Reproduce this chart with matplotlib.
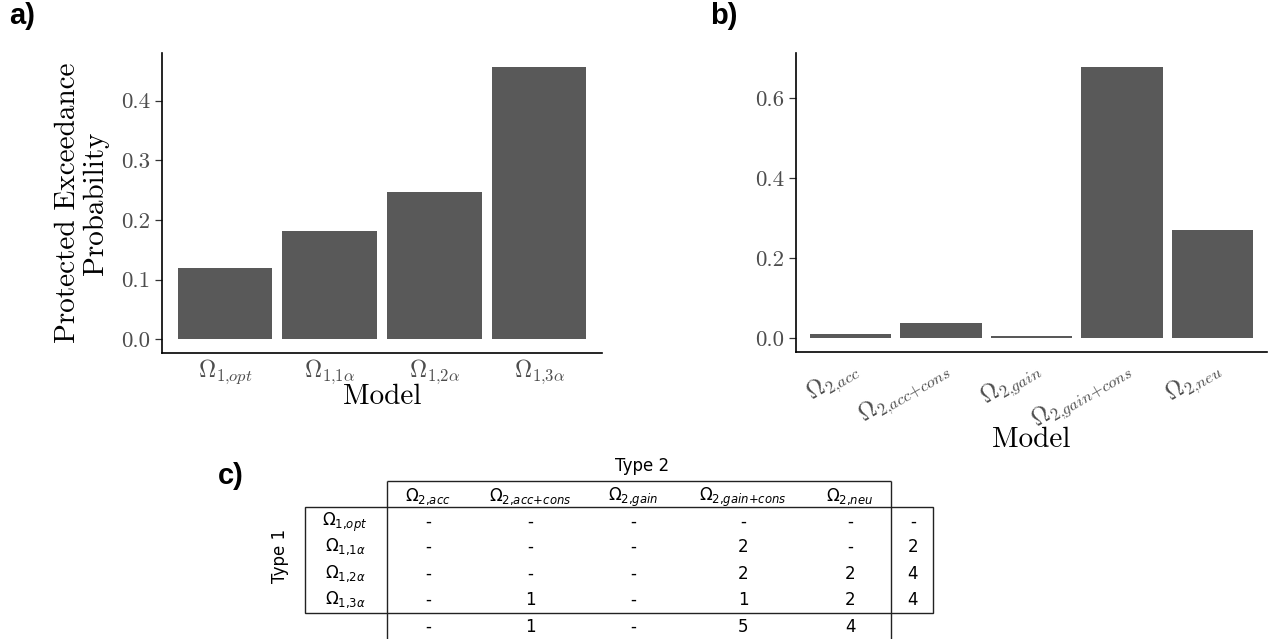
import numpy as np
import matplotlib
matplotlib.use("Agg")
import matplotlib.pyplot as plt
from matplotlib.patches import Rectangle

# --- data ---
type1_models = [r"$\Omega_{1{,}opt}$", r"$\Omega_{1{,}1\alpha}$",
                r"$\Omega_{1{,}2\alpha}$", r"$\Omega_{1{,}3\alpha}$"]
type1_pxp = [0.119, 0.182, 0.247, 0.457]

type2_models = [r"$\Omega_{2{,}acc}$", r"$\Omega_{2{,}acc{+}cons}$", r"$\Omega_{2{,}gain}$",
                r"$\Omega_{2{,}gain{+}cons}$", r"$\Omega_{2{,}neu}$"]
type2_pxp = [0.010, 0.039, 0.007, 0.678, 0.270]

# participant counts, rows = type 1 model, columns = type 2 model
counts = [
    [0, 0, 0, 0, 0],
    [0, 0, 0, 2, 0],
    [0, 0, 0, 2, 2],
    [0, 1, 0, 1, 2],
]

W, H = 1268, 639
BAR = "#595959"
TICK_TXT = "#4D4D4D"
SERIF = "cmr10"

plt.rcParams["mathtext.fontset"] = "cm"
plt.rcParams["axes.unicode_minus"] = False

fig = plt.figure(figsize=(W / 100, H / 100), dpi=100)


def px_axes(x0, y0, x1, y1):
    return fig.add_axes([x0 / W, 1 - y1 / H, (x1 - x0) / W, (y1 - y0) / H])


# --- table panel (drawn in pixel coordinates) ---
ax_t = px_axes(0, 0, W, H)
ax_t.set_xlim(0, W)
ax_t.set_ylim(H, 0)
ax_t.axis("off")
ax_t.patch.set_visible(False)

col_x = [428, 530, 633, 743, 850]
tot_x = 913
row_y = [522, 547, 574, 600]
head_y = 497
tot_y = 627
lab_x = 345
line_kw = dict(color="#222222", lw=1.0, solid_capstyle="butt")
txt_kw = dict(ha="center", va="center", fontsize=12, family="DejaVu Sans",
              math_fontfamily="dejavusans", color="black")

ax_t.plot([387, 891], [481, 481], **line_kw)
ax_t.plot([387, 387], [481, H], **line_kw)
ax_t.plot([891, 891], [481, H], **line_kw)
ax_t.add_patch(Rectangle((305, 507), 933 - 305, 613 - 507, fill=False,
                         edgecolor="#222222", lw=1.0))

ax_t.text(642, 466, "Type 2", **txt_kw)
ax_t.text(280, 556, "Type 1", rotation=90, **txt_kw)
for x, lab in zip(col_x, type2_models):
    ax_t.text(x, head_y, lab, **txt_kw)
for y, lab, row in zip(row_y, type1_models, counts):
    ax_t.text(lab_x, y, lab, **txt_kw)
    for x, v in zip(col_x, row):
        ax_t.text(x, y, str(v) if v else "-", **txt_kw)
    s = sum(row)
    ax_t.text(tot_x, y, str(s) if s else "-", **txt_kw)
for j, x in enumerate(col_x):
    s = sum(r[j] for r in counts)
    ax_t.text(x, tot_y, str(s) if s else "-", **txt_kw)


def style_axes(ax):
    for side in ("top", "right"):
        ax.spines[side].set_visible(False)
    for side in ("left", "bottom"):
        ax.spines[side].set_linewidth(1.2)
        ax.spines[side].set_color("black")
    ax.tick_params(axis="y", length=5, width=0.9, color="#333333", pad=3.5)
    ax.tick_params(axis="x", length=0)


# --- panel a ---
ax_a = px_axes(162, 53, 602, 353)
xa = np.arange(len(type1_pxp))
ax_a.bar(xa, type1_pxp, width=0.9, color=BAR)
ax_a.set_xlim(-0.6, len(xa) - 0.4)
ax_a.set_ylim(-0.05 * max(type1_pxp), 1.05 * max(type1_pxp))
style_axes(ax_a)
yt = [0.0, 0.1, 0.2, 0.3, 0.4]
ax_a.set_yticks(yt, [f"{v:.1f}" for v in yt], family=SERIF, fontsize=16.5, color=TICK_TXT)
ax_a.set_xticks(xa, type1_models, fontsize=17, color=TICK_TXT)
ax_a.tick_params(axis="x", pad=3)
ax_a.set_xlabel("Model", family=SERIF, fontsize=21)
ax_a.xaxis.set_label_coords(0.5, -0.147)
ax_a.xaxis.label.set_va("center")
ax_a.set_ylabel("Protected Exceedance\nProbability", family=SERIF, fontsize=21,
                linespacing=1.1)
ax_a.yaxis.set_label_coords(-0.182, 0.5)
ax_a.yaxis.label.set_va("center")

# --- panel b ---
ax_b = px_axes(796, 53, 1267, 352)
xb = np.arange(len(type2_pxp))
ax_b.bar(xb, type2_pxp, width=0.9, color=BAR)
ax_b.set_xlim(-0.6, len(xb) - 0.4)
ax_b.set_ylim(-0.05 * max(type2_pxp), 1.05 * max(type2_pxp))
style_axes(ax_b)
yt = [0.0, 0.2, 0.4, 0.6]
ax_b.set_yticks(yt, [f"{v:.1f}" for v in yt], family=SERIF, fontsize=16.5, color=TICK_TXT)
ax_b.set_xticks(xb, type2_models, fontsize=17, color=TICK_TXT, rotation=30,
                ha="right", va="top", rotation_mode="anchor")
ax_b.tick_params(axis="x", pad=2)
ax_b.set_xlabel("Model", family=SERIF, fontsize=21)
ax_b.xaxis.set_label_coords(0.5, -0.294)
ax_b.xaxis.label.set_va("center")

# --- panel tags ---
tag_kw = dict(fontsize=21, fontweight="bold", family=["Liberation Sans", "DejaVu Sans"],
              va="top", ha="left")
fig.text(9 / W, 1 - 2 / H, "a)", **tag_kw)
fig.text(710 / W, 1 - 2 / H, "b)", **tag_kw)
fig.text(218 / W, 1 - 462 / H, "c)", **tag_kw)

fig.savefig("out.png", dpi=100)
